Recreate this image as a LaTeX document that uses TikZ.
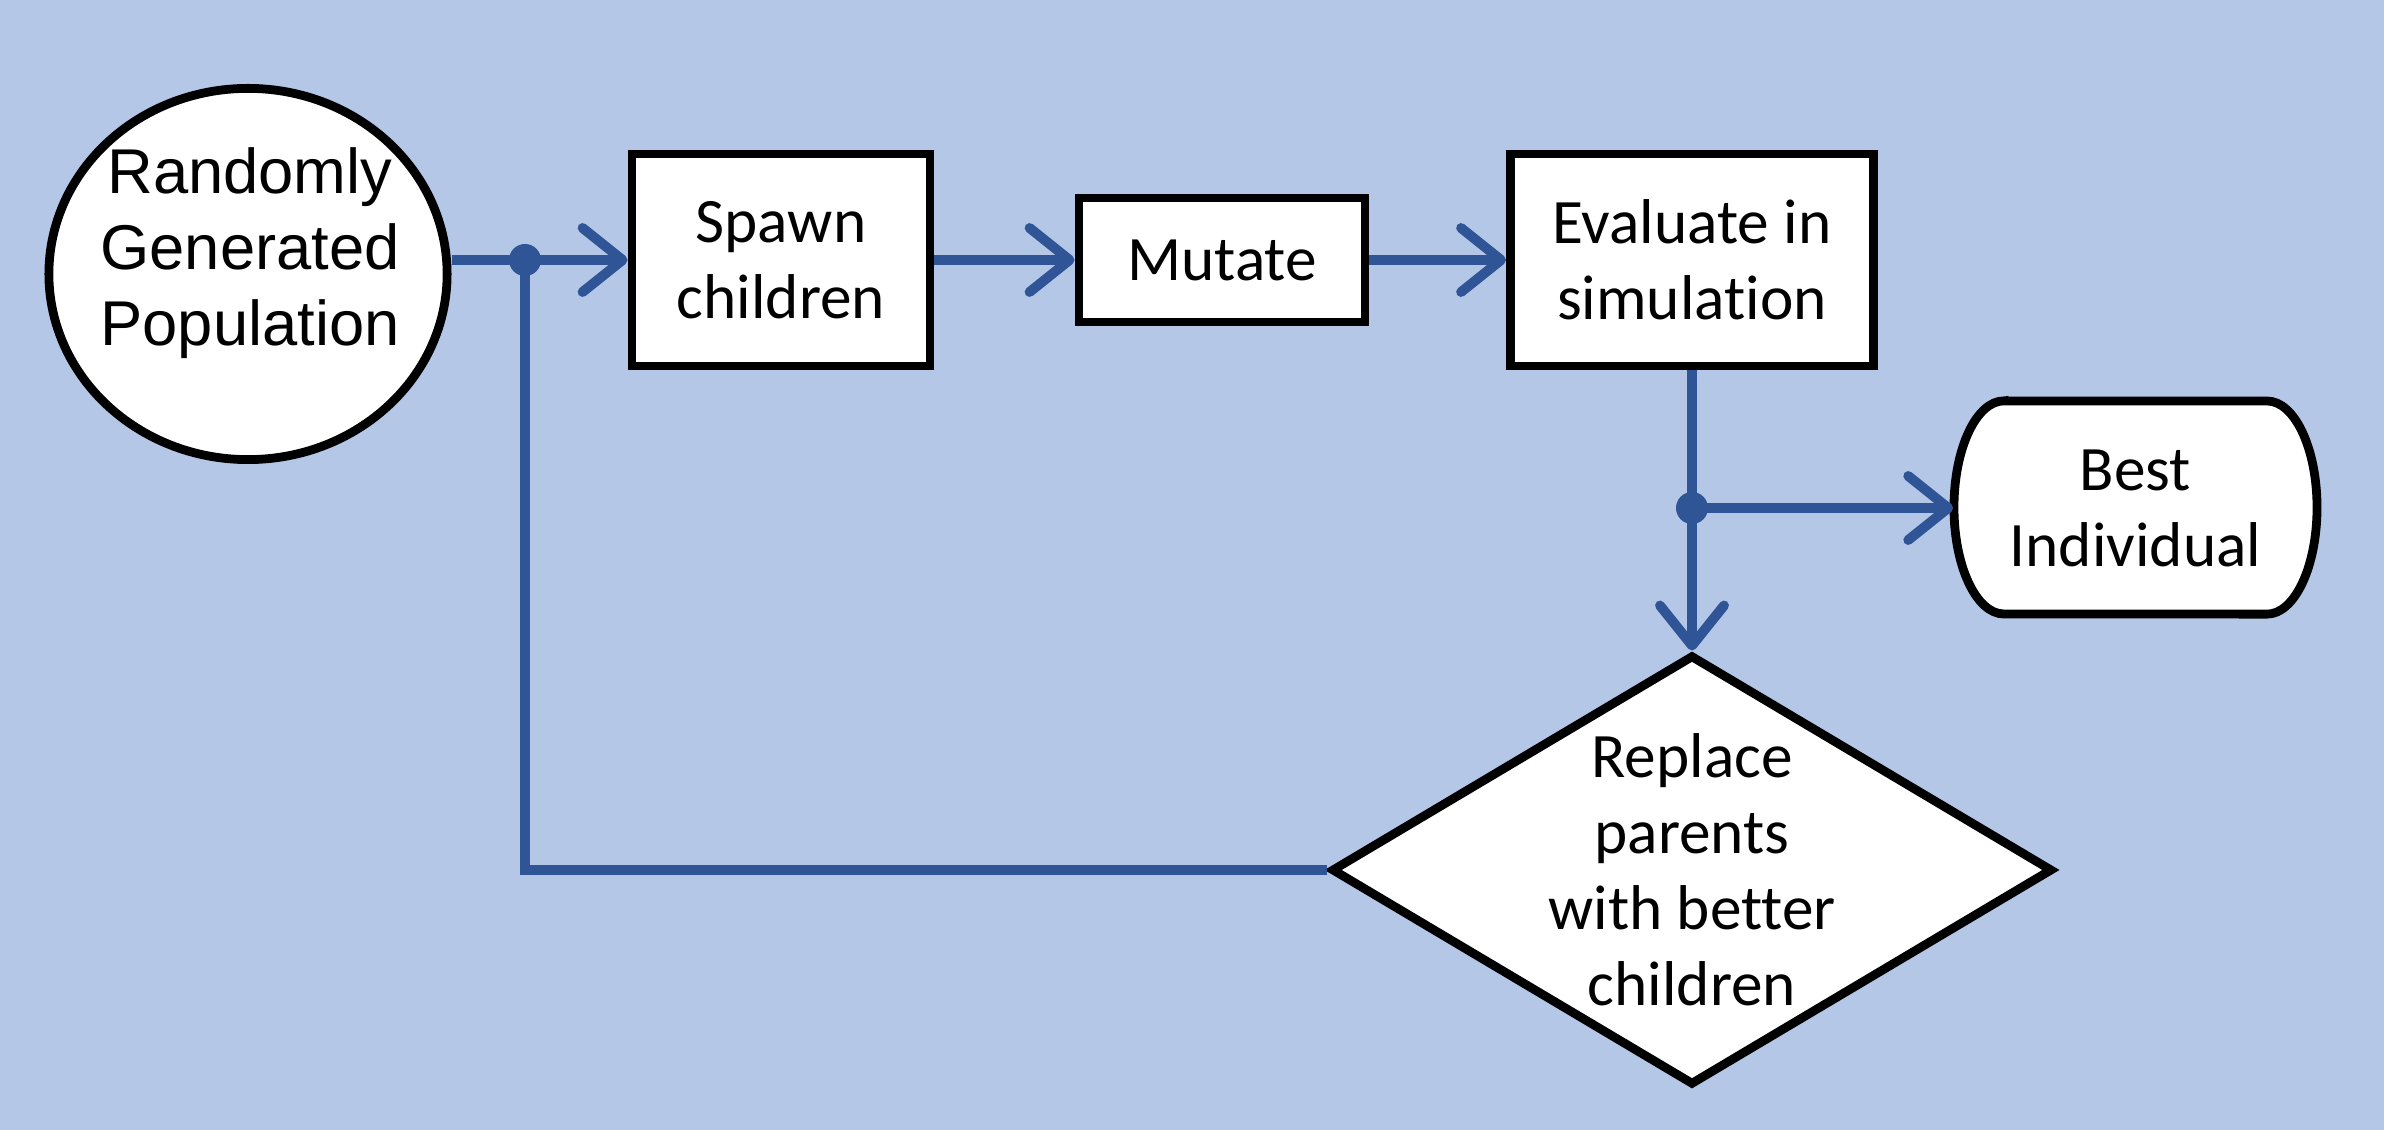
\documentclass[tikz,border=0pt]{standalone}
\usepackage{fontspec}
\setmainfont[Ligatures=NoCommon]{Carlito}
\newfontfamily\arialfont{Liberation Sans}
\usetikzlibrary{arrows.meta,shapes.geometric}
\definecolor{bgblue}{HTML}{B4C7E7}
\definecolor{flowblue}{HTML}{2F5597}

\begin{document}
\begin{tikzpicture}[x=0.01cm,y=0.01cm,
  font=\fontsize{18}{21.6}\selectfont,
  every node/.style={align=center,inner sep=0pt},
  shapeline/.style={draw=black,fill=white,line width=2.5pt},
  box/.style={shapeline,rectangle},
  flowline/.style={draw=flowblue,line width=2.8pt},
  flow/.style={flowline,-{Straight Barb[length=4mm,width=6.4mm,round]}},
  junction/.style={fill=flowblue}]
\fill[bgblue](0,0)rectangle(2384,1130);
% nodes
\node[shapeline,ellipse,minimum width=3.98cm,minimum height=3.71cm](pop)at(248,856){};
\node[font=\arialfont\fontsize{18}{21.6}\selectfont](poptext)at(250,877){Randomly\\Generated\\Population};
\node[box,minimum width=2.98cm,minimum height=2.12cm](spawn)at(781,870){Spawn\\children};
\node[box,minimum width=2.86cm,minimum height=1.24cm](mutate)at(1222,870){Mutate};
\node[box,minimum width=3.63cm,minimum height=2.12cm](eval)at(1692,870){Evaluate in\\simulation};
\node[shapeline,diamond,minimum width=7.21cm,minimum height=4.3cm](replace)at(1692,260){};
\node(replacetxt)at(replace){Replace\\parents\\with better\\children};
\filldraw[shapeline](2004,729)--(2267,729)arc[start angle=90,end angle=-90,x radius=0.5cm,y radius=1.065cm]
  --(2004,516)arc[start angle=270,end angle=90,x radius=0.5cm,y radius=1.065cm]--cycle;
\node[minimum width=3.63cm,minimum height=2.13cm](best)at(2135.5,622){Best\\Individual};
% connectors
\coordinate(split1)at(525,870);
\coordinate(split2)at(1692,622);
\draw[flow](pop.east|-spawn)--(spawn);
\draw[flow](spawn)--(mutate);
\draw[flow](mutate)--(eval);
\draw[flow](eval)--(replace);
\draw[flow](split2)--(best);
\draw[flowline](replace.west)-|(split1);
\fill[junction](split1)circle(0.16cm)(split2)circle(0.16cm);
\end{tikzpicture}
\end{document}
